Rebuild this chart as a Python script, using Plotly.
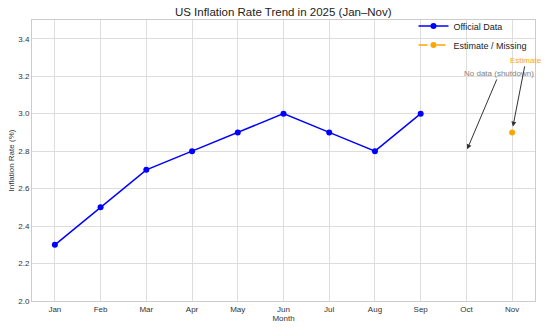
import plotly.graph_objects as go

months = ["Jan", "Feb", "Mar", "Apr", "May", "Jun", "Jul", "Aug", "Sep", "Oct", "Nov"]
official = [2.3, 2.5, 2.7, 2.8, 2.9, 3.0, 2.9, 2.8, 3.0, None, None]
estimate = [None, None, None, None, None, None, None, None, None, None, 2.9]

x_idx = list(range(len(months)))

fig = go.Figure()
fig.add_trace(go.Scatter(
    x=x_idx, y=official, mode="lines+markers", name="Official Data",
    line=dict(color="#0000ff", width=1.5), marker=dict(size=6, color="#0000ff"),
    connectgaps=False,
))
fig.add_trace(go.Scatter(
    x=x_idx, y=estimate, mode="lines+markers", name="Estimate / Missing",
    line=dict(color="#ffa500", width=1.5, dash="dash"), marker=dict(size=6, color="#ffa500"),
))

fig.add_annotation(
    x=9, y=2.8, xref="x", yref="y", ax=9.72, ay=3.215, axref="x", ayref="y",
    text="No data (shutdown)", showarrow=True, arrowhead=2, arrowsize=1, arrowwidth=1,
    arrowcolor="#333333", font=dict(size=8, color="#808080"), standoff=2,
)
fig.add_annotation(
    x=10, y=2.91, xref="x", yref="y", ax=10.3, ay=3.285, axref="x", ayref="y",
    text="Estimate", showarrow=True, arrowhead=2, arrowsize=1, arrowwidth=1,
    arrowcolor="#333333", font=dict(size=8, color="#ffa500"), standoff=4,
)

fig.update_layout(
    width=550, height=330,
    margin=dict(l=32, r=15, t=20, b=29),
    paper_bgcolor="white", plot_bgcolor="white",
    font=dict(family="Liberation Sans, Arial, sans-serif", size=8, color="#333333"),
    title=dict(text="US Inflation Rate Trend in 2025 (Jan–Nov)", x=0.515, xanchor="center",
               y=0.964, yanchor="middle", font=dict(size=11.5, color="#222222")),
    showlegend=True,
    legend=dict(x=0.995, y=1.03, xanchor="right", yanchor="top",
                bgcolor="rgba(255,255,255,0)", font=dict(size=9, color="#222222"),
                tracegroupgap=0, itemwidth=30),
    xaxis=dict(
        tickmode="array", tickvals=x_idx, ticktext=months, range=[-0.5, 10.5],
        showgrid=True, gridcolor="#dddddd", gridwidth=1, zeroline=False,
        showline=True, linecolor="#cccccc", mirror=True, ticks="",
        title=dict(text="Month", font=dict(size=8), standoff=2),
        tickfont=dict(size=8), automargin=False,
    ),
    yaxis=dict(
        range=[2.0, 3.5], tickvals=[2.0, 2.2, 2.4, 2.6, 2.8, 3.0, 3.2, 3.4],
        tickformat=".1f",
        showgrid=True, gridcolor="#dddddd", gridwidth=1, zeroline=False,
        showline=True, linecolor="#cccccc", mirror=True, ticks="",
        title=dict(text="Inflation Rate (%)", font=dict(size=8), standoff=2),
        tickfont=dict(size=8), automargin=False,
    ),
)

fig.write_html("out.html")
